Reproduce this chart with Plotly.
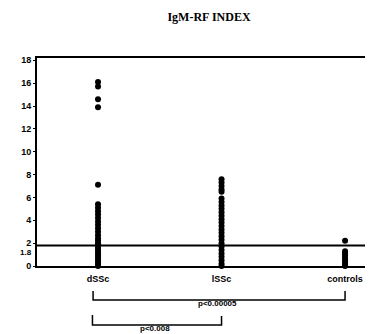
import plotly.graph_objects as go

categories = ["dSSc", "lSSc", "controls"]
dssc_values = [16.1, 15.7, 14.6, 13.9, 7.1, 5.4, 5.1, 4.8, 4.5, 4.2, 3.9, 3.6, 3.3, 3.0, 2.7,
               2.4, 2.2, 2.0, 1.8, 1.6, 1.4, 1.2, 1.0, 0.8, 0.6, 0.4, 0.2, 0.0]
lssc_values = [7.6, 7.3, 7.0, 6.7, 6.5, 5.9, 5.6, 5.3, 5.0, 4.7, 4.4, 4.1, 3.8, 3.5, 3.2,
               2.9, 2.6, 2.3, 2.0, 1.7, 1.4, 1.1, 0.8, 0.5, 0.2, 0.0]
control_values = [2.2, 1.3, 1.1, 0.9, 0.7, 0.5, 0.3, 0.1, 0.0]
reference_value = 1.8
reference_label = "1.8"
y_ticks = [0, 2, 4, 6, 8, 10, 12, 14, 16, 18]
y_tick_text = ["0", "2", "4", "6", "8", "10", "12", "14", "16", "18"]
p_values = ["p<0.00005", "p<0.008"]

series = [dssc_values, lssc_values, control_values]

fig = go.Figure()
for i, vals in enumerate(series):
    fig.add_trace(go.Scatter(
        x=[i] * len(vals), y=vals, mode="markers",
        marker=dict(color="black", size=6),
        cliponaxis=False, showlegend=False,
    ))

fig.add_hline(y=reference_value, line=dict(color="black", width=2))

font_b = dict(family="Liberation Sans", size=9, color="black")

# reference line label (offset slightly below so it does not collide with "2")
fig.add_annotation(x=0, y=reference_value, xref="paper", yref="y", xanchor="right",
                   text="<b>" + reference_label + "</b>", showarrow=False, xshift=-3, yshift=-7,
                   font=dict(family="Liberation Sans", size=8, color="black"))

# brackets
fig.add_shape(type="path", xref="x", yref="paper",
              path="M -0.04,-0.12 L -0.04,-0.163 L 2.0,-0.163 L 2.0,-0.12",
              line=dict(color="black", width=1.5))
fig.add_shape(type="path", xref="x", yref="paper",
              path="M -0.045,-0.236 L -0.045,-0.284 L 1.0,-0.284 L 1.0,-0.24",
              line=dict(color="black", width=1.5))
fig.add_annotation(x=0.97, y=-0.212, xref="x", yref="paper", text="<b>" + p_values[0] + "</b>",
                   showarrow=False, font=dict(family="Liberation Sans", size=8, color="black"))
fig.add_annotation(x=0.46, y=-0.332, xref="x", yref="paper", text="<b>" + p_values[1] + "</b>",
                   showarrow=False, font=dict(family="Liberation Sans", size=8, color="black"))

fig.update_layout(
    width=373, height=334,
    margin=dict(l=29, r=0, t=50, b=76),
    paper_bgcolor="white", plot_bgcolor="white",
    title=dict(text="<b>IgM-RF INDEX</b>", x=0.5, xref="paper", xanchor="center",
               y=0.975, yanchor="middle",
               font=dict(family="Liberation Serif", size=12, color="black")),
    xaxis=dict(range=[-0.494, 2.291], tickvals=[0, 1, 2],
               ticktext=["<b>%s</b>" % c for c in categories],
               showline=True, linecolor="black", linewidth=2, mirror=True,
               ticks="inside", ticklen=3, tickcolor="black",
               showgrid=False, zeroline=False, tickfont=font_b, ticklabelstandoff=3),
    yaxis=dict(range=[0, 18.2], tickvals=y_ticks,
               ticktext=["<b>%s</b>" % t for t in y_tick_text],
               showline=True, linecolor="black", linewidth=2,
               ticks="outside", ticklen=2, tickcolor="black",
               showgrid=False, zeroline=False, tickfont=font_b),
)

fig.write_html("out.html")
